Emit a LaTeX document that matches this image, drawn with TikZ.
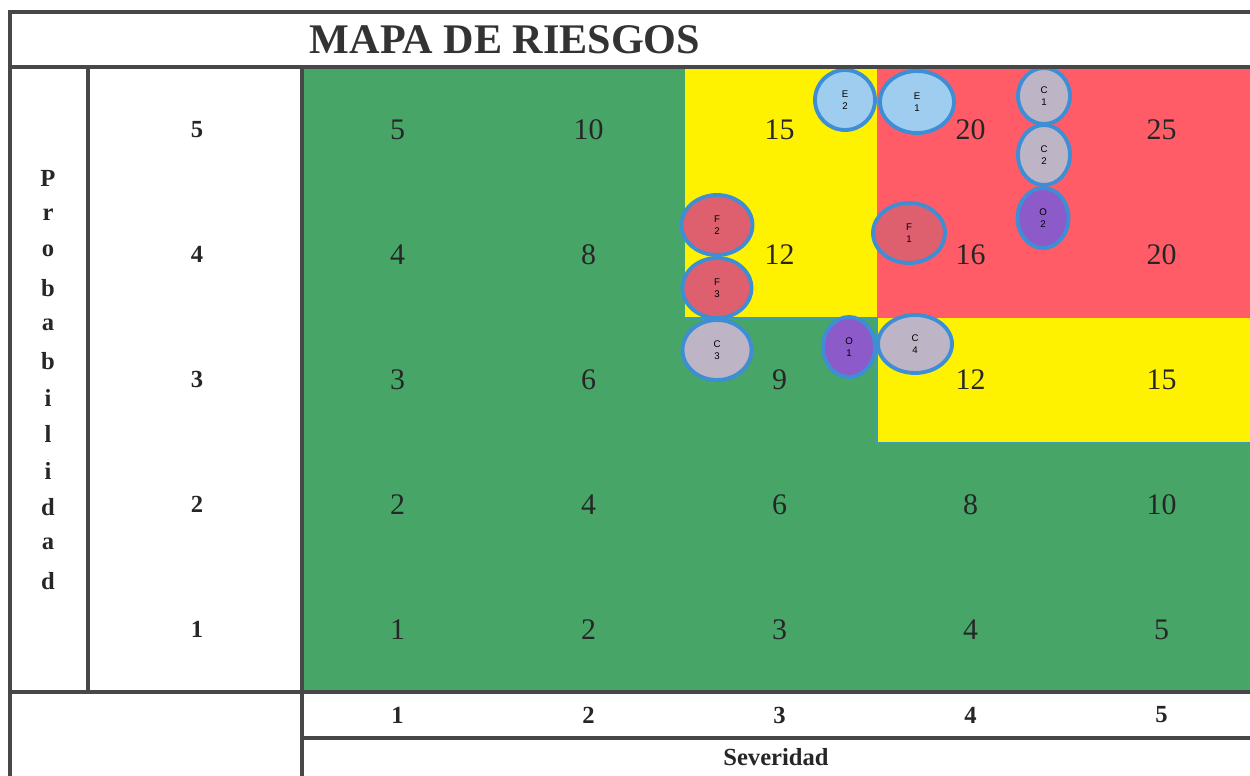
\documentclass[tikz,border=0pt]{standalone}
\usepackage{fontspec}
\setmainfont{Liberation Serif}
\newfontfamily\bubblefont{Liberation Sans}
\usetikzlibrary{shapes.geometric,positioning,calc}

\definecolor{riskgreen}{HTML}{46A567}
\definecolor{riskyellow}{HTML}{FFF200}
\definecolor{riskred}{HTML}{FF5C67}
\definecolor{framegray}{HTML}{474747}
\definecolor{edgeblue}{HTML}{3E8ED6}
\definecolor{zoneline}{HTML}{3A9FB4}
\definecolor{bubblecyan}{HTML}{9ECDF0}
\definecolor{bubblered}{HTML}{DE606E}
\definecolor{bubblegray}{HTML}{BDB5C6}
\definecolor{bubblepurple}{HTML}{8C5AC9}

\tikzset{
	frame/.style={draw=framegray,line width=2.2pt},
	cellnum/.style={font=\fontsize{17}{17}\selectfont,text=black!85},
	axisnum/.style={font=\bfseries\fontsize{14}{14}\selectfont,text=black!85},
	bubble/.style n args={3}{ellipse,draw=edgeblue,line width=2.2pt,fill=#1,inner sep=0pt,align=center,
		font=\bubblefont\fontsize{5.5}{6.8}\selectfont,minimum width=#2mm,minimum height=#3mm}
}

\begin{document}
\begin{tikzpicture}[x=0.02cm,y=-0.02cm]
		\useasboundingbox (0,0) rectangle (1250,776);
		% zonas de riesgo
		\fill[riskgreen] (302,67) rectangle (1250,692);
		\fill[riskyellow] (685,67) rectangle (877,318);
		\fill[riskred] (877,67) rectangle (1250,318);
		\fill[riskyellow] (877,318) rectangle (1250,443);
		\draw[zoneline,line width=1pt] (685,318) -- (877,318) -- (877,443) -- (1250,443);
		% valores de la matriz
		\foreach \p in {1,...,5}
			\foreach \s in {1,...,5}
				\node[cellnum] (cell-\p-\s) at ({302+191*(\s-0.5)},{692-125*(\p-0.5)}) {\pgfmathparse{int(\p*\s)}\pgfmathresult};
		% ejes
		\foreach \p in {1,...,5}
			\node[axisnum] (prob-\p) at (197,{692-125*(\p-0.5)}) {\p};
		\foreach \s in {1,...,5}
			\node[axisnum] (sev-\s) at ({302+191*(\s-0.5)},715) {\s};
		\foreach \l [count=\i] in {P,r,o,b,a,b,i,l,i,d,a,d}
			\node[axisnum] (letra-\i) at (48,{178+36.6*(\i-1)}) {\l};
		\node[axisnum] (severidad) at (776,757) {Severidad};
		\node[font=\bfseries\fontsize{24}{24}\selectfont,text=black!80] (titulo) at (505,40) {MAPA DE RIESGOS};
		% riesgos identificados
		\node[bubble={bubblecyan}{12}{12}] (E2) at (845,100) {E\\2};
		\node[bubble={bubblecyan}{14.8}{12.4}] (E1) at (917,102) {E\\1};
		\node[bubble={bubblegray}{10.4}{11.2}] (C1) at (1044,96) {C\\1};
		\node[bubble={bubblegray}{10.4}{12}] (C2) at (1044,155) {C\\2};
		\node[bubble={bubblepurple}{10.2}{12}] (O2) at (1043,218) {O\\2};
		\node[bubble={bubblered}{14.2}{12}] (F2) at (717,225) {F\\2};
		\node[bubble={bubblered}{13.8}{12}] (F3) at (717,288) {F\\3};
		\node[bubble={bubblered}{14.4}{12}] (F1) at (909,233) {F\\1};
		\node[bubble={bubblegray}{13.8}{12}] (C3) at (717,350) {C\\3};
		\node[bubble={bubblepurple}{10.4}{12}] (O1) at (849,347) {O\\1};
		\node[bubble={bubblegray}{14.8}{11.6}] (C4) at (915,344) {C\\4};
		% marco
		\draw[frame] (10,776) -- (10,12) -- (1250,12);
		\draw[frame] (10,67) -- (1250,67);
		\draw[frame] (88,67) -- (88,692);
		\draw[frame] (302,67) -- (302,776);
		\draw[frame] (10,692) -- (1250,692);
		\draw[frame] (302,738) -- (1250,738);
	\end{tikzpicture}
\end{document}
